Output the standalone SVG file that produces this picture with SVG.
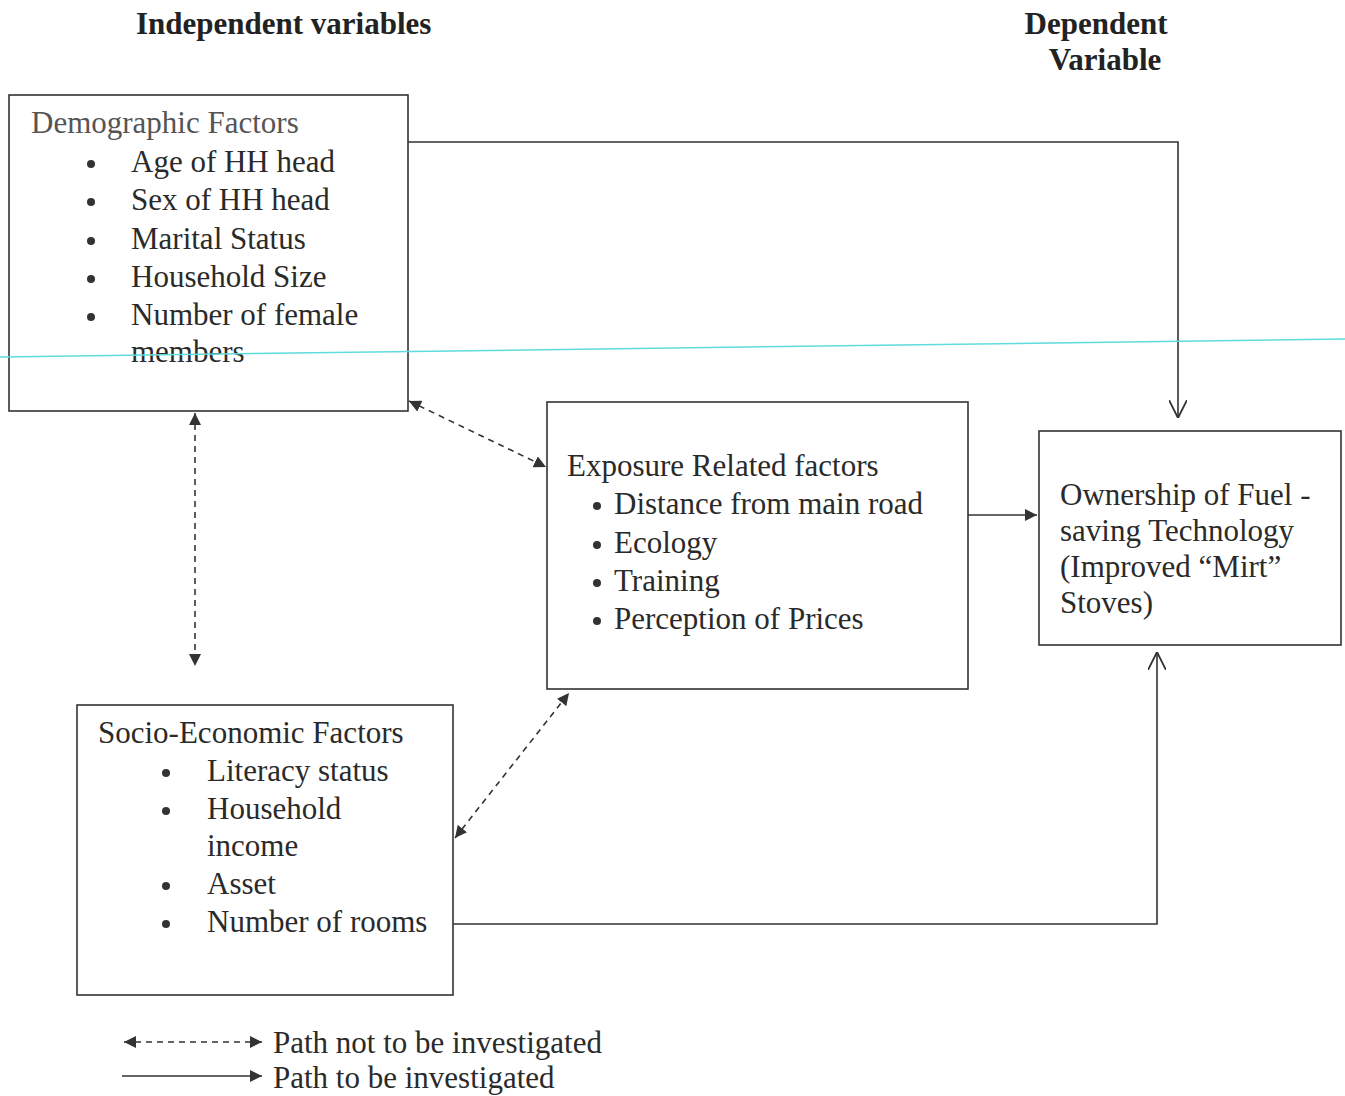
<svg xmlns="http://www.w3.org/2000/svg" width="1345" height="1096" viewBox="0 0 1345 1096">
<style>
.box{fill:#fff;stroke:#333;stroke-width:1.6}
.t{font-family:"Liberation Serif","Times New Roman",serif;font-size:31px;fill:#2a2a2a}
.h{font-family:"Liberation Serif","Times New Roman",serif;font-size:31px;font-weight:bold;fill:#222}
.b{fill:#333}
.c{fill:none;stroke:#333;stroke-width:1.6}
.d{fill:none;stroke:#333;stroke-width:1.6;stroke-dasharray:6,5}
</style>
<defs>
<marker id="f" viewBox="0 0 10 10" refX="10" refY="5" markerWidth="12" markerHeight="12" markerUnits="userSpaceOnUse" orient="auto-start-reverse"><path d="M0,0 L10,5 L0,10 z" fill="#333"/></marker>
<marker id="o" viewBox="0 0 10 10" refX="10" refY="5" markerWidth="18" markerHeight="18" markerUnits="userSpaceOnUse" orient="auto"><path d="M0,0 L10,5 L0,10" fill="none" stroke="#333" stroke-width="1"/></marker>
</defs>
<rect width="1345" height="1096" fill="#fff"/>
<text class="h" x="136" y="34">Independent variables</text>
<text class="h" x="1096" y="34" text-anchor="middle">Dependent</text>
<text class="h" x="1105" y="70" text-anchor="middle">Variable</text>

<g id="demographic">
<rect class="box" x="9" y="95" width="399" height="316"/>
<text class="t" x="31" y="133" style="fill:#555">Demographic Factors</text>
<circle class="b" cx="91" cy="164" r="4"/><text class="t" x="131" y="172">Age of HH head</text>
<circle class="b" cx="91" cy="202" r="4"/><text class="t" x="131" y="210">Sex of HH head</text>
<circle class="b" cx="91" cy="241" r="4"/><text class="t" x="131" y="249">Marital Status</text>
<circle class="b" cx="91" cy="279" r="4"/><text class="t" x="131" y="287">Household Size</text>
<circle class="b" cx="91" cy="317" r="4"/><text class="t" x="131" y="325">Number of female</text>
<text class="t" x="131" y="362">members</text>
</g>

<g id="exposure">
<rect class="box" x="547" y="402" width="421" height="287"/>
<text class="t" x="567" y="476">Exposure Related factors</text>
<circle class="b" cx="597" cy="506" r="4"/><text class="t" x="614" y="514">Distance from main road</text>
<circle class="b" cx="597" cy="545" r="4"/><text class="t" x="614" y="553">Ecology</text>
<circle class="b" cx="597" cy="583" r="4"/><text class="t" x="614" y="591">Training</text>
<circle class="b" cx="597" cy="621" r="4"/><text class="t" x="614" y="629">Perception of Prices</text>
</g>

<g id="ownership">
<rect class="box" x="1039" y="431" width="302" height="214"/>
<text class="t" x="1060" y="505">Ownership of Fuel -</text>
<text class="t" x="1060" y="541">saving Technology</text>
<text class="t" x="1060" y="577">(Improved “Mirt”</text>
<text class="t" x="1060" y="613">Stoves)</text>
</g>

<g id="socio">
<rect class="box" x="77" y="705" width="376" height="290"/>
<text class="t" x="98" y="743">Socio-Economic Factors</text>
<circle class="b" cx="166" cy="773" r="4"/><text class="t" x="207" y="781">Literacy status</text>
<circle class="b" cx="166" cy="811" r="4"/><text class="t" x="207" y="819">Household</text>
<text class="t" x="207" y="856">income</text>
<circle class="b" cx="166" cy="886" r="4"/><text class="t" x="207" y="894">Asset</text>
<circle class="b" cx="166" cy="924" r="4"/><text class="t" x="207" y="932">Number of rooms</text>
</g>

<g id="connectors">
<polyline class="c" points="408,142 1178,142 1178,418" marker-end="url(#o)"/>
<line class="c" x1="968" y1="515" x2="1037" y2="515" marker-end="url(#f)"/>
<polyline class="c" points="453,924 1157,924 1157,652" marker-end="url(#o)"/>
<line class="d" x1="195" y1="413" x2="195" y2="666" marker-start="url(#f)" marker-end="url(#f)"/>
<line class="d" x1="409" y1="401" x2="546" y2="467" marker-start="url(#f)" marker-end="url(#f)"/>
<line class="d" x1="455" y1="838" x2="569" y2="693" marker-start="url(#f)" marker-end="url(#f)"/>
</g>

<g id="legend">
<line class="d" x1="124" y1="1042" x2="262" y2="1042" marker-start="url(#f)" marker-end="url(#f)"/>
<text class="t" x="273" y="1053">Path not to be investigated</text>
<line class="c" x1="122" y1="1076" x2="262" y2="1076" marker-end="url(#f)"/>
<text class="t" x="273" y="1088">Path to be investigated</text>
</g>

<line x1="0" y1="357" x2="1345" y2="339" stroke="#5fdcdc" stroke-width="1.5"/>
</svg>
